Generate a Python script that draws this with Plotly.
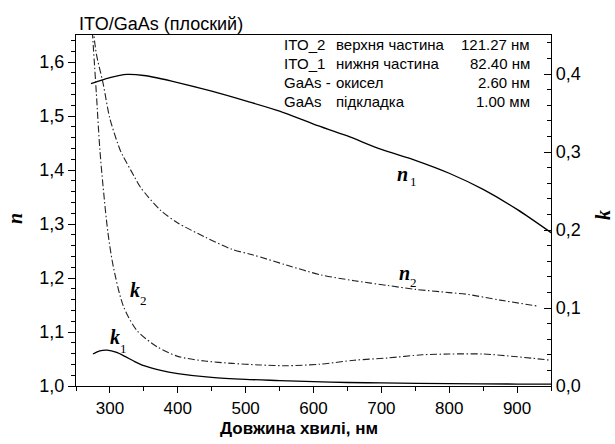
import plotly.graph_objects as go

# --- data -------------------------------------------------------------
# n1: refractive index of the upper ITO layer
wl_n1 = [272, 280, 300, 325, 350, 400, 450, 500, 550, 600, 650, 700, 750, 800, 850, 900, 950]
n1 = [1.560, 1.563, 1.571, 1.577, 1.575, 1.562, 1.546, 1.528, 1.509, 1.485, 1.463, 1.438,
      1.418, 1.394, 1.364, 1.327, 1.284]

# n2: refractive index of the lower ITO layer
wl_n2 = [275, 280, 290, 300, 315, 320, 335, 345, 375, 400, 440, 480, 510, 560, 610, 660,
         710, 750, 800, 825, 875, 930]
n2 = [1.665, 1.615, 1.560, 1.495, 1.437, 1.424, 1.390, 1.368, 1.325, 1.302, 1.276, 1.253,
      1.243, 1.224, 1.206, 1.195, 1.186, 1.179, 1.173, 1.170, 1.159, 1.148]

# k1: extinction coefficient of the upper ITO layer
wl_k1 = [275, 285, 296, 310, 322, 335, 350, 375, 400, 450, 500, 550, 600, 650, 700, 800, 900, 950]
k1 = [0.041, 0.045, 0.046, 0.043, 0.038, 0.032, 0.026, 0.020, 0.016, 0.011, 0.0085, 0.007,
      0.0055, 0.0045, 0.004, 0.003, 0.0025, 0.0023]

# k2: extinction coefficient of the lower ITO layer
wl_k2 = [274, 280, 285, 290, 297, 305, 320, 340, 370, 400, 440, 480, 520, 560, 610, 660,
         710, 760, 800, 850, 900, 950]
k2 = [0.455, 0.375, 0.305, 0.255, 0.197, 0.153, 0.102, 0.071, 0.050, 0.038, 0.032, 0.029,
      0.027, 0.026, 0.028, 0.033, 0.036, 0.040, 0.041, 0.041, 0.0375, 0.033]

# layer structure table
layer_names = ["ITO_2", "ITO_1", "GaAs -", "GaAs"]
layer_roles = ["верхня частина", "нижня частина", "окисел", "підкладка"]
layer_thickness = ["121.27 нм", "82.40 нм", "2.60 нм", "1.00 мм"]

# curve labels: symbol and index
curve_symbols = ["n", "n", "k", "k"]
curve_indices = ["1", "2", "2", "1"]

n_ticks = [1.0, 1.1, 1.2, 1.3, 1.4, 1.5, 1.6]
k_ticks = [0.0, 0.1, 0.2, 0.3, 0.4]
wl_ticks = [300, 400, 500, 600, 700, 800, 900]

# --- figure -------------------------------------------------------------
W, H = 615, 444
L, R, T, B = 76, 551, 35, 386  # plot-area edges in pixels

def px(x, y):
    """pixel position -> paper coordinates"""
    return (x - L) / (R - L), (B - y) / (B - T)

SANS = "Liberation Sans, Arial, sans-serif"
SERIF = "Liberation Serif, Times New Roman, serif"
DASHDOT = "7px,2.5px,1.5px,2.5px"

solid = dict(color="black", width=1.3, shape="spline", smoothing=0.8)
dashed = dict(color="#222", width=1.1, dash=DASHDOT, shape="spline", smoothing=0.8)

fig = go.Figure()
fig.add_trace(go.Scatter(x=wl_n1, y=n1, mode="lines", line=solid, yaxis="y", showlegend=False))
fig.add_trace(go.Scatter(x=wl_n2, y=n2, mode="lines", line=dashed, yaxis="y", showlegend=False))
fig.add_trace(go.Scatter(x=wl_k1, y=k1, mode="lines", line=solid, yaxis="y2", showlegend=False))
fig.add_trace(go.Scatter(x=wl_k2, y=k2, mode="lines", line=dashed, yaxis="y2", showlegend=False))

axis_common = dict(showgrid=False, zeroline=False, linecolor="black", linewidth=1.3,
                   tickcolor="black", tickwidth=1.2)

fig.update_layout(
    width=W, height=H,
    margin=dict(l=L, r=W - R, t=T, b=H - B, pad=0),
    paper_bgcolor="white", plot_bgcolor="white",
    separators=",.",
    xaxis=dict(range=[250, 950], tickvals=wl_ticks, ticks="outside", ticklen=6,
               mirror=True, showline=True,
               minor=dict(dtick=50, tick0=250, ticks="outside", ticklen=4,
                          tickcolor="black", tickwidth=1.2),
               tickfont=dict(family=SANS, size=17, color="black"), **axis_common),
    yaxis=dict(range=[1.0, 1.65], tickvals=n_ticks, tickformat=".1f", ticks="outside",
               ticklen=7, showline=True,
               minor=dict(dtick=0.02, tick0=1.0, ticks="outside", ticklen=4,
                          tickcolor="black", tickwidth=1.2),
               tickfont=dict(family=SANS, size=18, color="black"), **axis_common),
    yaxis2=dict(range=[0.0, 0.45], tickvals=k_ticks, tickformat=".1f", ticks="inside",
                ticklen=7, overlaying="y", side="right", showline=True,
                minor=dict(dtick=0.02, tick0=0.0, ticks="inside", ticklen=4,
                           tickcolor="black", tickwidth=1.2),
                tickfont=dict(family=SANS, size=18, color="black"), **axis_common),
)

ann = []

def label(x, y, text, size, family, **kw):
    xp, yp = px(x, y)
    ann.append(dict(x=xp, y=yp, xref="paper", yref="paper", text=text, showarrow=False,
                    font=dict(family=family, size=size, color="black"),
                    xanchor=kw.pop("xanchor", "center"), yanchor=kw.pop("yanchor", "middle"),
                    **kw))

# title and axis titles
label(77, 24, "ITO/GaAs (плоский)", 18, SANS, xanchor="left")
label(299, 428, "<b>Довжина хвилі, нм</b>", 17, SANS)
label(15, 219, "<b><i>n</i></b>", 20, SERIF, textangle=-90)
label(603, 215, "<b><i>k</i></b>", 20, SERIF, textangle=-90)

# layer table
row_y = [45, 64, 83, 102]
for yy, a, b, c in zip(row_y, layer_names, layer_roles, layer_thickness):
    label(282, yy, a, 15, SANS, xanchor="left")
    label(334, yy, b, 15, SANS, xanchor="left")
    label(532, yy, c, 15, SANS, xanchor="right")

# curve labels: main letter and its subscript index
letter_pos = [(402, 174), (404, 273), (135, 290), (115, 337)]
index_pos = [(413, 181), (413, 282), (143, 300), (123, 348)]
for sym, idx, (lx, ly), (ix, iy) in zip(curve_symbols, curve_indices, letter_pos, index_pos):
    label(lx, ly, "<b><i>%s</i></b>" % sym, 20, SERIF)
    label(ix, iy, idx, 13, SERIF)

fig.update_layout(annotations=ann)
fig.write_html("out.html")
